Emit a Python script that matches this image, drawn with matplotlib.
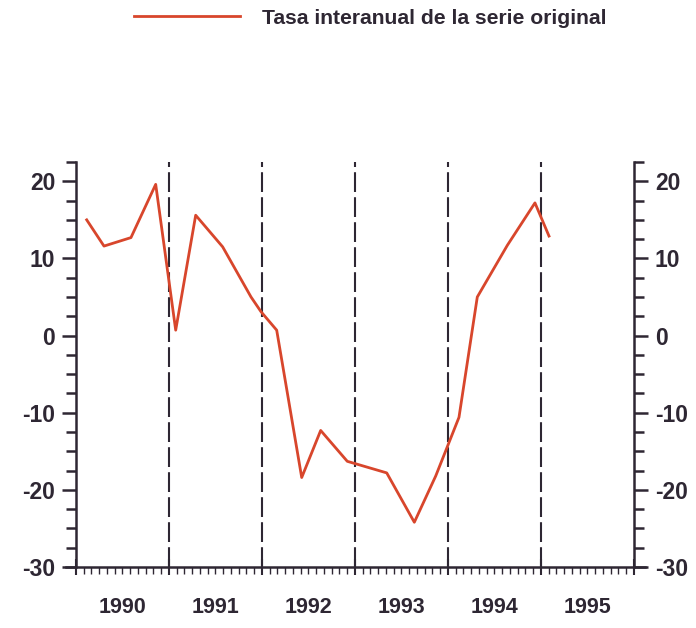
import numpy as np
import matplotlib.pyplot as plt
from matplotlib.transforms import blended_transform_factory

# fechas (año decimal) y tasa interanual
fechas = [1990.115, 1990.301, 1990.591, 1990.857, 1991.072, 1991.287, 1991.577,
          1991.882, 1991.989, 1992.158, 1992.427, 1992.631, 1992.917, 1993.341,
          1993.638, 1993.868, 1994.003, 1994.118, 1994.315, 1994.638, 1994.935,
          1995.086]
tasa = [15.0, 11.6, 12.7, 19.6, 0.7, 15.6, 11.5, 5.0, 3.1, 0.7, -18.4, -12.3,
        -16.3, -17.8, -24.2, -18.2, -14.1, -10.6, 5.0, 11.7, 17.2, 12.9]
anios = [1990, 1991, 1992, 1993, 1994, 1995]
cortes = [1991, 1992, 1993, 1994, 1995]
yticks = [-30, -20, -10, 0, 10, 20]

rojo = '#d8462c'
oscuro = '#2e2733'
plt.rcParams['font.family'] = ['Liberation Sans', 'DejaVu Sans']
plt.rcParams['axes.unicode_minus'] = False

fig = plt.figure(figsize=(6.96, 6.28), dpi=100)
ax = fig.add_axes([66 / 696, 1 - 567 / 628, (645 - 66) / 696, (567 - 162) / 628])

ax.set_xlim(1990 - 10 / 93, 1996 + 11 / 93)
ax.set_ylim(-30, 22.5)

for c in cortes:
    ax.axvline(c, color=oscuro, lw=1.5, dashes=(9.5, 2.5), zorder=1)

linea, = ax.plot(fechas, tasa, color=rojo, lw=2.0, zorder=3,
                 label='Tasa interanual de la serie original')

# ejes
ax.spines['top'].set_visible(False)
ax.spines['left'].set_position(('data', 1990))
ax.spines['right'].set_position(('data', 1996))
for s in ['left', 'right', 'bottom']:
    ax.spines[s].set_color(oscuro)
    ax.spines[s].set_linewidth(1.8)

ax.set_yticks(yticks)
ax.set_yticks(np.arange(-30, 22.6, 2.5), minor=True)
ax.tick_params(axis='y', which='both', left=True, right=True,
               labelleft=True, labelright=True, direction='out',
               color=oscuro, width=1.8, labelsize=16.5, labelcolor=oscuro)
ax.tick_params(axis='y', which='major', length=10, pad=5)
ax.tick_params(axis='y', which='minor', length=7)
for lab in ax.get_yticklabels():
    lab.set_fontweight('bold')

ax.set_xticks(anios + [1996])
ax.set_xticks(np.arange(1990, 1996.01, 1 / 12), minor=True)
ax.tick_params(axis='x', which='major', direction='inout', length=11,
               width=1.5, color=oscuro, labelbottom=False)
ax.tick_params(axis='x', which='minor', direction='out', length=5,
               width=1.0, color=oscuro)

trans = blended_transform_factory(ax.transData, ax.transAxes)
for a in anios:
    ax.text(a + 0.5, -0.1, str(a), transform=trans, ha='center', va='center',
            fontsize=15.5, fontweight='bold', color=oscuro)

fig.legend(handles=[linea], loc='center', bbox_to_anchor=(0.532, 0.971),
           frameon=False, handlelength=5.0, handletextpad=1.05,
           prop={'size': 15.2, 'weight': 'bold'}, labelcolor=oscuro)

fig.savefig('out.png', dpi=100)
